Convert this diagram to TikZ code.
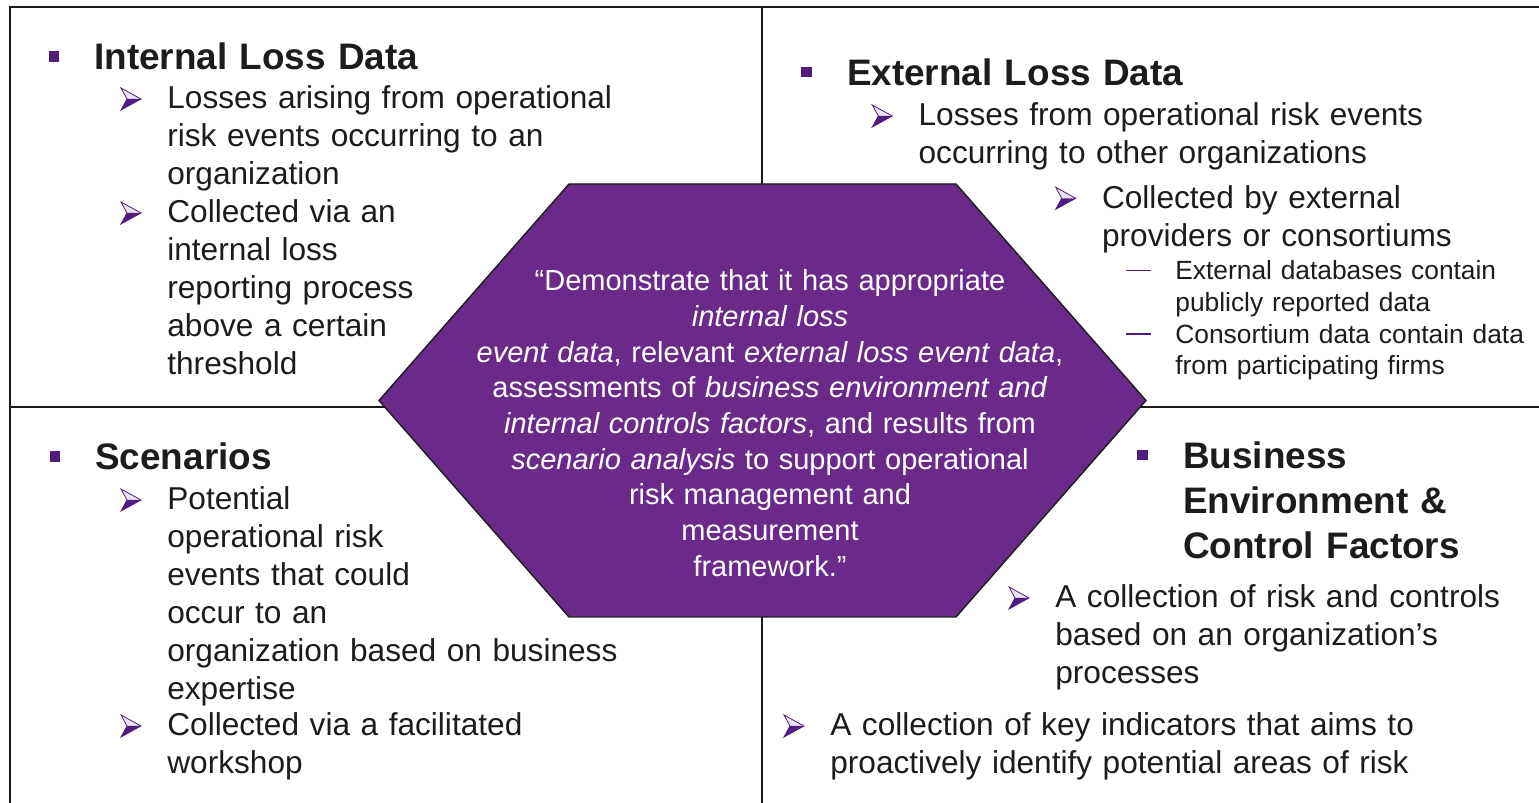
\documentclass[tikz,border=0pt]{standalone}
\usepackage{fontspec}
\setmainfont{Liberation Sans}
\usepackage{xcolor}
\usepackage{tikz}
\usetikzlibrary{calc}
\definecolor{hexpurple}{HTML}{6B2A89}
\definecolor{bulletpurple}{HTML}{4E1D7E}
\definecolor{ink}{HTML}{1C1C1C}

\tikzset{
  tipbullet/.pic={
    \fill[bulletpurple!12] (-10,-11) -- (10,0) -- (-4,0) -- cycle;
    \fill[bulletpurple] (-4,0) -- (10,0) -- (-10,11) -- cycle;
    \draw[bulletpurple, line width=0.45pt] (-10,-11) -- (10,0) -- (-10,11) -- (-4,0) -- cycle;
  }
}

\begin{document}
\begin{tikzpicture}[
  x=0.02cm, y=-0.02cm,
  frame/.style={line width=1.2pt, draw=ink},
  hexagon/.style={fill=hexpurple, draw=ink, line width=0.8pt},
  heading/.style={anchor=base west, inner sep=0pt, text width=9cm, align=left, font=\fontsize{21}{25.6}\selectfont\bfseries, text=ink},
  item/.style={anchor=base west, inner sep=0pt, text width=13cm, align=left, font=\fontsize{18}{21.6}\selectfont, text=ink},
  subitem/.style={anchor=base west, inner sep=0pt, text width=8cm, align=left, font=\fontsize{15}{17.8}\selectfont, text=ink},
  sqbullet/.style={rectangle, fill=bulletpurple, minimum size=0.21cm, inner sep=0pt},
  dashbullet/.style={draw=bulletpurple, line width=1.1pt},
  quotebox/.style={anchor=base, inner sep=0pt, text width=13cm, align=center, font=\fontsize{16.5}{20.3}\selectfont, text=white}
]
  \useasboundingbox (0,0) rectangle (1539,803);

  % quadrant frame
  \draw[frame] (1539,7) -- (10,7) -- (10,803);
  \draw[frame] (762,7) -- (762,803);
  \draw[frame] (10,407) -- (1539,407);

  % centre hexagon with the quote
  \draw[hexagon] (379,400.5) -- (569,184) -- (956,184) -- (1146,400.5) -- (956,617) -- (569,617) -- cycle;
  \node[quotebox] (quote) at (770,290.7) {“Demonstrate that it has appropriate\\
    \textit{internal loss}\\
    \textit{event data}, relevant \textit{external loss event data},\\
    assessments of \textit{business environment and}\\
    \textit{internal controls factors}, and results from\\
    \textit{scenario analysis} to support operational\\
    risk management and\\
    measurement\\
    framework.”};

  % internal loss data
  \node[heading] (ildhead) at (94,70) {Internal Loss Data};
  \node[item] (ild1) at (167,109) {Losses arising from operational\\risk events occurring to an\\organization};
  \node[item] (ild2) at (167,223) {Collected via an\\internal loss\\reporting process\\above a certain\\threshold};

  % external loss data
  \node[heading] (eldhead) at (846.7,85.7) {External Loss Data};
  \node[item] (eld1) at (918.3,126) {Losses from operational risk events\\occurring to other organizations};
  \node[item] (eld2) at (1101.7,208.3) {Collected by external\\providers or consortiums};
  \node[subitem] (eld3) at (1175,280) {External databases contain\\publicly reported data};
  \node[subitem] (eld4) at (1175,343.3) {Consortium data contain data\\from participating firms};

  % scenarios
  \node[heading] (scnhead) at (95,470) {Scenarios};
  \node[item] (scn1) at (167,510) {Potential\\operational risk\\events that could\\occur to an\\organization based on business\\expertise};
  \node[item] (scn2) at (167,736) {Collected via a facilitated\\workshop};

  % business environment and control factors
  \node[heading] (becfhead) at (1182.7,468.3) {Business\\Environment \&\\Control Factors};
  \node[item] (becf1) at (1055,608) {A collection of risk and controls\\based on an organization’s\\processes};
  \node[item] (becf2) at (830,736) {A collection of key indicators that aims to\\proactively identify potential areas of risk};

  % bullets
  \foreach \h in {ildhead,eldhead,scnhead,becfhead}
    \node[sqbullet] (\h sq) at ($(\h.base west)+(-40,-13.5)$) {};
  \foreach \i in {ild1,ild2,eld1,eld2,scn1,scn2,becf1,becf2}
    \pic at ($(\i.base west)+(-36,-10)$) {tipbullet};
  \foreach \s in {eld3,eld4}
    \draw[dashbullet] ($(\s.base west)+(-49,-9.5)$) -- ($(\s.base west)+(-24,-9.5)$);
\end{tikzpicture}
\end{document}
